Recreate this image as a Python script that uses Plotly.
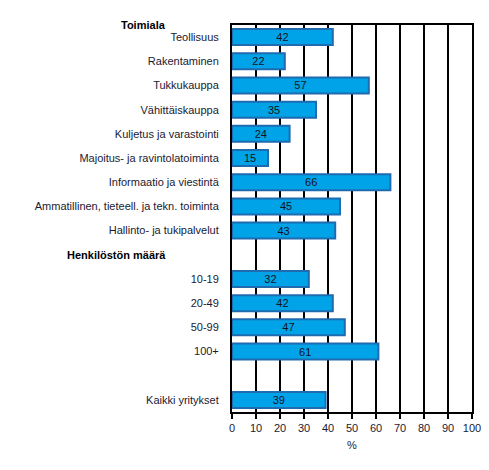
import plotly.graph_objects as go

# categories, top to bottom (blank strings = spacer / header rows)
categories = ["Teollisuus", "Rakentaminen", "Tukkukauppa", "Vähittäiskauppa",
              "Kuljetus ja varastointi", "Majoitus- ja ravintolatoiminta",
              "Informaatio ja viestintä", "Ammatillinen, tieteell. ja tekn. toiminta",
              "Hallinto- ja tukipalvelut", " ", "10-19", "20-49", "50-99", "100+",
              "  ", "Kaikki yritykset"]
values = [42, 22, 57, 35, 24, 15, 66, 45, 43, None, 32, 42, 47, 61, None, 39]
headers = ["Toimiala", "Henkilöstön määrä"]
xticks = list(range(0, 101, 10))

fig = go.Figure()
fig.add_trace(go.Bar(
    x=values, y=categories, orientation='h',
    marker=dict(color='#00A3E8', line=dict(color='#1E6BB0', width=2)),
    width=0.66,
    text=[str(v) if v is not None else '' for v in values],
    textposition='inside', insidetextanchor='middle', textangle=0,
    constraintext='none',
    textfont=dict(color='#111122', size=11, family='Liberation Sans'),
    hoverinfo='x+y',
))

# section headers (right edges line up at ~168px)
fig.add_annotation(text='<b>' + headers[0] + '</b>', xref='paper', yref='paper',
                   x=-0.267, y=1.0, xanchor='right', yanchor='middle', showarrow=False,
                   font=dict(size=11, color='#000000'))
fig.add_annotation(text='<b>' + headers[1] + '</b>', xref='paper', yref='y',
                   x=-0.267, y=' ', xanchor='right', yanchor='middle', showarrow=False,
                   font=dict(size=11, color='#000000'))

# page body has an 8px margin, so the figure is a bit smaller than the window
fig.update_layout(
    width=481, height=462,
    margin=dict(l=224, r=17, t=17, b=58),
    plot_bgcolor='white', paper_bgcolor='white',
    font=dict(family='Liberation Sans', size=11, color='#1a1a33'),
    showlegend=False,
    xaxis=dict(
        range=[0, 100], tickvals=xticks, showgrid=True, gridcolor='black', gridwidth=2,
        zeroline=False, showline=True, linecolor='black', linewidth=2, mirror=True,
        ticks='outside', ticklen=5, tickwidth=2, tickcolor='black', automargin=False,
        title=dict(text='%', standoff=8, font=dict(size=11)),
        tickfont=dict(size=11),
    ),
    yaxis=dict(
        categoryorder='array', categoryarray=categories, autorange=False,
        range=[len(categories) - 0.5, -0.5], automargin=False,
        showgrid=False, zeroline=False, showline=True, linecolor='black', linewidth=2,
        mirror=True, ticks='', ticklabelstandoff=9, tickfont=dict(size=11),
    ),
)

fig.write_html("out.html")
